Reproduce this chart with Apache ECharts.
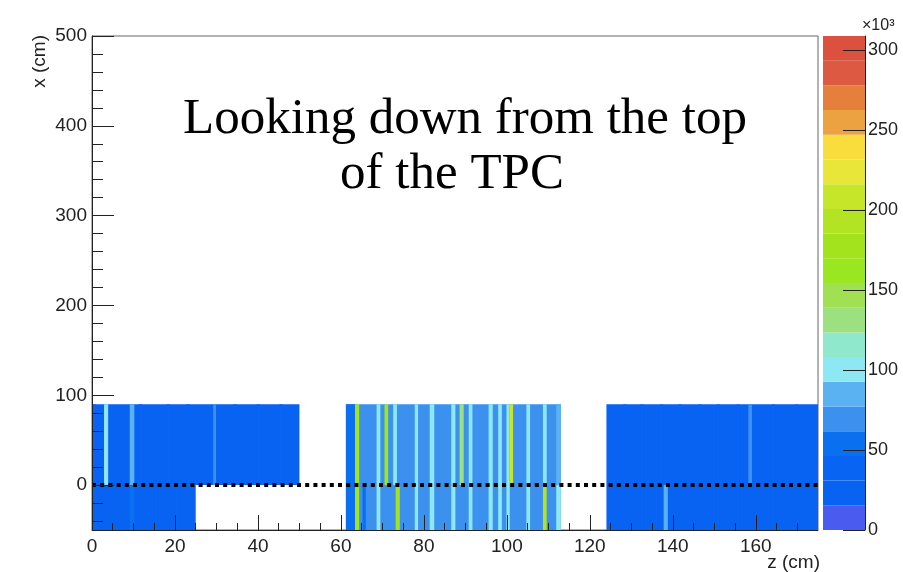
<!DOCTYPE html>
<html><head><meta charset="utf-8">
<script src="https://cdn.jsdelivr.net/npm/echarts@6/dist/echarts.min.js"></script>
<style>html,body{margin:0;padding:0;background:#fff}#c{width:903px;height:572px}</style>
</head><body><div id="c"></div>
<script>
// ---- tick labels ----
const xMajorTicks = [0, 20, 40, 60, 80, 100, 120, 140, 160];
const xMinorTicks = [5, 10, 15, 25, 30, 35, 45, 50, 55, 65, 70, 75, 85, 90, 95, 105, 110, 115, 125, 130, 135, 145, 150, 155, 165, 170];
const yMajorTicks = [0, 100, 200, 300, 400, 500];
const yMinorTicks = [-40, -20, 20, 40, 60, 80, 120, 140, 160, 180, 220, 240, 260, 280, 320, 340, 360, 380, 420, 440, 460, 480];
const zTicks = [0, 50, 100, 150, 200, 250, 300];

// ---- colour palette (contour levels, x10^3) ----
const colorLevels = [0, 15.45, 30.9, 46.35, 61.8, 77.25, 92.7, 108.15, 123.6, 139.05, 154.5, 169.95, 185.4, 200.85, 216.3, 231.75, 247.2, 262.65, 278.1, 293.55, 309];
const paletteColors = ['#4a5cf0', '#0862f2', '#0864f2', '#0a70f0', '#3c90ee', '#5ab2f2', '#8ee8f4', '#90e8cc', '#9ce080', '#a0e052',
                       '#9ae620', '#a2e31e', '#b2e424', '#c6e62a', '#e8e638', '#f9dd3c', '#eca240', '#e57f3c', '#dc5a42', '#dc5040'];

// ---- histogram content: [z0, z1, x0, x1, value(x10^3)] ----
const baseBlocks = [
  [0, 50, 0, 90, 28],
  [0, 25, -50, 0, 28],
  [61.2, 113, -50, 90, 70],
  [124, 175, -50, 90, 28]
];
// upper row (x 0..90): [z0, z1, value]
const upperStripes = [
  [0, 0.9, 40], [2.9, 3.9, 100], [9.1, 10.2, 85], [11.3, 12.1, 45], [18.0, 18.8, 45], [22.8, 23.6, 45],
  [29.2, 29.9, 65], [34.1, 34.9, 45], [39.7, 40.5, 45], [45.2, 46.0, 45],
  [61.2, 63.4, 55], [63.4, 64.4, 185], [68.6, 69.5, 100], [70.5, 71.4, 185], [72.6, 73.5, 100],
  [77.8, 78.6, 100], [81.4, 82.5, 100], [86.6, 87.6, 100], [88.6, 89.6, 130], [90.8, 91.7, 100],
  [95.6, 96.6, 100], [97.9, 98.8, 95], [99.9, 100.6, 100], [100.6, 101.5, 210], [104.7, 105.6, 100],
  [108.7, 109.6, 95], [111.9, 113, 85],
  [128.1, 128.8, 45], [132.2, 132.9, 45], [137.0, 137.7, 45], [141.4, 142.1, 45], [146.2, 146.9, 45],
  [150.6, 151.3, 45], [155.4, 156.1, 45], [158.2, 159.1, 65], [163.9, 164.6, 45], [169.5, 170.2, 45]
];
// lower row (x -50..0): [z0, z1, value]
const lowerStripes = [
  [4.4, 5.2, 45], [9.1, 10.2, 50], [15.0, 15.8, 45], [20.2, 21.0, 45],
  [61.2, 63.4, 55], [63.4, 64.4, 185], [65.2, 66.0, 55], [68.6, 69.5, 100], [73.2, 74.2, 185],
  [77.8, 78.6, 100], [81.4, 82.5, 100], [86.6, 87.6, 100], [90.8, 91.7, 100], [95.6, 96.6, 100],
  [97.9, 98.8, 95], [99.9, 100.7, 100], [104.7, 105.6, 100], [108.7, 109.6, 190], [111.9, 113, 100],
  [128.1, 128.8, 45], [132.2, 132.9, 45], [137.8, 138.8, 90], [141.4, 142.1, 45], [146.2, 146.9, 45],
  [150.6, 151.3, 45], [155.4, 156.1, 45], [163.9, 164.6, 45], [169.5, 170.2, 45]
];
// dotted reference line at x = 0
const guideLine = [[0, 0], [175, 0]];

const cells = baseBlocks
  .concat(upperStripes.map(s => [s[0], s[1], 0, 90, s[2]]))
  .concat(lowerStripes.map(s => [s[0], s[1], -50, 0, s[2]]));
const colorBands = paletteColors.map((c, i) => [0, 1, colorLevels[i], colorLevels[i + 1], i]);
const pieces = paletteColors.map((c, i) => (i === paletteColors.length - 1
  ? { gte: colorLevels[i], lte: colorLevels[i + 1], color: c }
  : { gte: colorLevels[i], lt: colorLevels[i + 1], color: c }));

const axisColor = '#222';
const labelFont = 'Liberation Sans';

function rectItem(api, fill) {
  const p0 = api.coord([api.value(0), api.value(3)]);
  const p1 = api.coord([api.value(1), api.value(2)]);
  return { type: 'rect', shape: { x: p0[0], y: p0[1], width: p1[0] - p0[0], height: p1[1] - p0[1] },
           style: { fill: fill } };
}

const chart = echarts.init(document.getElementById('c'), null, { renderer: 'canvas' });
chart.setOption({
  animation: false,
  backgroundColor: '#fff',
  grid: [
    { left: 92, top: 36, width: 726, height: 494, show: true, borderColor: '#666', borderWidth: 1, backgroundColor: 'transparent' },
    { left: 823, top: 36, width: 42, height: 494 }
  ],
  visualMap: { type: 'piecewise', show: false, dimension: 4, seriesIndex: 0, pieces: pieces },
  xAxis: [
    { gridIndex: 0, type: 'value', min: 0, max: 175, position: 'bottom', z: 10,
      axisLine: { show: true, onZero: false, lineStyle: { color: axisColor } },
      axisTick: { show: true, inside: true, length: 15, customValues: xMajorTicks, lineStyle: { color: axisColor } },
      axisLabel: { customValues: xMajorTicks, fontSize: 19, color: axisColor, margin: 7, fontFamily: labelFont },
      splitLine: { show: false } },
    { gridIndex: 0, type: 'value', min: 0, max: 175, position: 'bottom', z: 10,
      axisLine: { show: false, onZero: false },
      axisTick: { show: true, inside: true, length: 7, customValues: xMinorTicks, lineStyle: { color: axisColor } },
      axisLabel: { show: false }, splitLine: { show: false } },
    { gridIndex: 1, type: 'value', min: 0, max: 1, show: false, axisLine: { onZero: false } }
  ],
  yAxis: [
    { gridIndex: 0, type: 'value', min: -50, max: 500, position: 'left', z: 10,
      axisLine: { show: true, onZero: false, lineStyle: { color: axisColor } },
      axisTick: { show: true, inside: true, length: 22, customValues: yMajorTicks, lineStyle: { color: axisColor } },
      axisLabel: { customValues: yMajorTicks, fontSize: 19, color: axisColor, margin: 5, fontFamily: labelFont },
      splitLine: { show: false } },
    { gridIndex: 0, type: 'value', min: -50, max: 500, position: 'left', z: 10,
      axisLine: { show: false, onZero: false },
      axisTick: { show: true, inside: true, length: 11, customValues: yMinorTicks, lineStyle: { color: axisColor } },
      axisLabel: { show: false }, splitLine: { show: false } },
    { gridIndex: 1, type: 'value', min: 0, max: 309, position: 'right', z: 10,
      axisLine: { show: true, onZero: false, lineStyle: { color: axisColor } },
      axisTick: { show: true, inside: true, length: 22, customValues: zTicks, lineStyle: { color: axisColor } },
      axisLabel: { customValues: zTicks, fontSize: 18, color: axisColor, margin: 3, fontFamily: labelFont },
      splitLine: { show: false } }
  ],
  series: [
    { type: 'custom', xAxisIndex: 0, yAxisIndex: 0, data: cells, encode: { x: [0, 1], y: [2, 3] },
      renderItem: (params, api) => rectItem(api, api.visual('color')), silent: true, z: 2 },
    { type: 'custom', xAxisIndex: 2, yAxisIndex: 2, data: colorBands, encode: { x: [0, 1], y: [2, 3] },
      renderItem: (params, api) => rectItem(api, paletteColors[api.value(4)]), silent: true, z: 2 },
    { type: 'line', xAxisIndex: 0, yAxisIndex: 0, data: guideLine, symbol: 'none', silent: true, z: 5,
      lineStyle: { color: '#000', width: 4, type: [4, 4.2], cap: 'butt' } }
  ],
  graphic: [
    { type: 'text', x: 465, y: 120, style: { text: 'Looking down from the top', fontFamily: 'Liberation Serif', fontSize: 51, fill: '#000', align: 'center', verticalAlign: 'middle' } },
    { type: 'text', x: 452, y: 175, style: { text: 'of the TPC', fontFamily: 'Liberation Serif', fontSize: 51, fill: '#000', align: 'center', verticalAlign: 'middle' } },
    { type: 'text', x: 40, y: 35, rotation: Math.PI / 2, style: { text: 'x (cm)', fontFamily: labelFont, fontSize: 19, fill: axisColor, align: 'right', verticalAlign: 'middle' } },
    { type: 'text', x: 820, y: 563, style: { text: 'z (cm)', fontFamily: labelFont, fontSize: 19, fill: axisColor, align: 'right', verticalAlign: 'middle' } },
    { type: 'text', x: 862, y: 26, style: { text: '×10³', fontFamily: labelFont, fontSize: 16, fill: axisColor, align: 'left', verticalAlign: 'middle' } }
  ]
});
</script>
</body></html>
